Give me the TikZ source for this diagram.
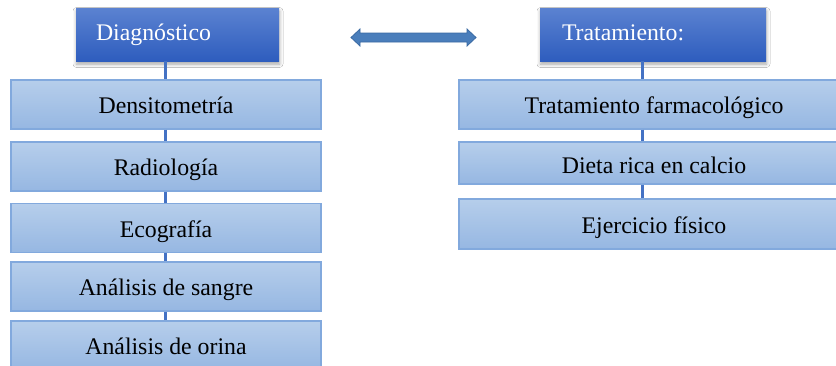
\documentclass[tikz,border=0pt]{standalone}
\usepackage{fontspec}
\setmainfont{Liberation Serif}
\usetikzlibrary{shadows.blur}
\definecolor{hdtop}{HTML}{5B82D1}
\definecolor{hdbot}{HTML}{2E5DBE}
\definecolor{bxtop}{HTML}{B6CEEB}
\definecolor{bxbot}{HTML}{96B7E2}
\definecolor{bxline}{HTML}{82A9DD}
\definecolor{conncol}{HTML}{4472C4}
\definecolor{arrfill}{HTML}{4A7EBB}
\definecolor{arrline}{HTML}{3A6AA3}
\tikzset{
  hdr/.style={rectangle, top color=hdtop, bottom color=hdbot, draw=none,
    minimum height=53pt, inner ysep=0pt, align=left, text=white,
    text height=12pt, text depth=1pt,
    font=\fontsize{23.8}{28}\selectfont,
    blur shadow={shadow xshift=0.5pt, shadow yshift=-3pt, shadow blur radius=3.5pt, shadow opacity=35}},
  itembox/.style={rectangle, top color=bxtop, bottom color=bxbot, draw=bxline,
    line width=1.3pt, inner sep=0pt, text height=20pt, text depth=1.5pt,
    font=\fontsize{23.8}{28}\selectfont},
  conn/.style={draw=conncol, line width=3pt},
}
\begin{document}
\begin{tikzpicture}[x=1pt,y=-1pt]
\clip (0,0) rectangle (836,365);
\fill[white] (0,0) rectangle (836,365);
\coordinate (lx) at (165,61);
\coordinate (rx) at (642,61);
% headers
\node[hdr, minimum width=203pt, inner xsep=20pt, text width=163pt] (dg) at (177.5,34.5) {Diagnóstico};
\node[hdr, minimum width=226pt, inner xsep=22pt, text width=182pt] (tr) at (653,34.5) {Tratamiento:};
% left boxes
\node[itembox, minimum width=310pt, minimum height=49pt] (b1) at (166,104.5) {Densitometría};
\node[itembox, minimum width=310pt, minimum height=49pt] (b2) at (166,166.5) {Radiología};
\node[itembox, minimum width=310pt, minimum height=49pt] (b3) at (166,228) {Ecografía};
\node[itembox, minimum width=310pt, minimum height=49pt] (b4) at (166,286.5) {Análisis de sangre};
\node[itembox, minimum width=310pt, minimum height=49pt] (b5) at (166,345.5) {Análisis de orina};
% right boxes
\node[itembox, minimum width=390pt, minimum height=49pt] (r1) at (654,104.5) {Tratamiento farmacológico};
\node[itembox, minimum width=390pt, minimum height=42pt, text height=22pt] (r2) at (654,163) {Dieta rica en calcio};
\node[itembox, minimum width=390pt, minimum height=50pt] (r3) at (654,224) {Ejercicio físico};
% connectors
\draw[conn] (dg.south -| lx) -- (b1.north -| lx);
\draw[conn] (b1.south -| lx) -- (b2.north -| lx);
\draw[conn] (b2.south -| lx) -- (b3.north -| lx);
\draw[conn] (b3.south -| lx) -- (b4.north -| lx);
\draw[conn] (b4.south -| lx) -- (b5.north -| lx);
\draw[conn] (tr.south -| rx) -- (r1.north -| rx);
\draw[conn] (r1.south -| rx) -- (r2.north -| rx);
\draw[conn] (r2.south -| rx) -- (r3.north -| rx);
% double arrow
\draw[arrline, fill=arrfill, line width=0.8pt, line join=miter]
  (351,37.5) -- (360,29) -- (360,33) -- (467,33) -- (467,29) -- (476,37.5)
  -- (467,46) -- (467,42) -- (360,42) -- (360,46) -- cycle;
\end{tikzpicture}
\end{document}
